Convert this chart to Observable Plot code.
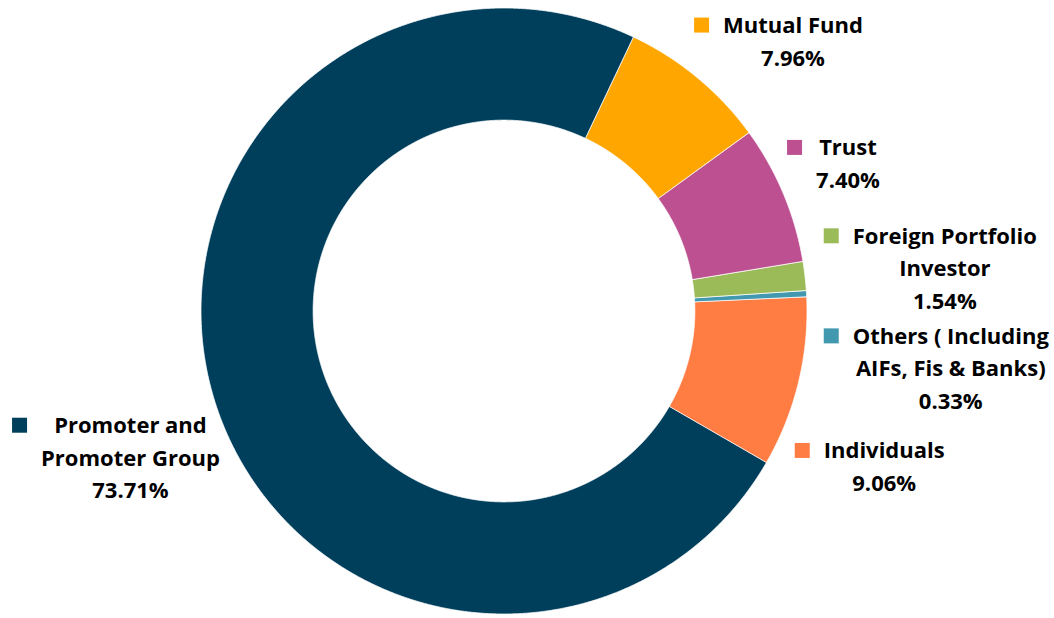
<!DOCTYPE html>
<html><head><meta charset="utf-8">
<script src="https://cdn.jsdelivr.net/npm/d3@7"></script>
<script src="https://cdn.jsdelivr.net/npm/@observablehq/plot@0.6"></script>
<style>html,body{margin:0;padding:0;background:#fff;overflow:hidden;}</style>
</head><body><div id="chart"></div>
<script>
// ---- data ----
const categories = ["Promoter and Promoter Group", "Mutual Fund", "Trust", "Foreign Portfolio Investor", "Others ( Including AIFs, Fis & Banks)", "Individuals"];
const labelLines = [["Promoter and", "Promoter Group"], ["Mutual Fund"], ["Trust"], ["Foreign Portfolio", "Investor"], ["Others ( Including", "AIFs, Fis & Banks)"], ["Individuals"]];
const shares = [73.71, 7.96, 7.40, 1.54, 0.33, 9.06];
const colors = ["#003f5c", "#ffa600", "#bc5090", "#9bbb59", "#4198af", "#ff7c43"];

// ---- layout ----
const W = 1054, H = 618;
const margin = {left: 201, right: 247, top: 8, bottom: 4};
const firstSliceAngle = 120;      // degrees clockwise from 12 o'clock
const innerRatio = 0.63;
const labelRadius = 1.3;
const labelNudge = [[2, 29], [37, 33], [-20, 4], [49, 2], [53, 79], [-3, 62]]; // px
const fontSize = 22, lineHeight = 1.48, fontFamily = "Open Sans";
const textShift = -2.5;
const keySize = 15, keyGap = 14;

const total = d3.sum(shares);
let acc = firstSliceAngle;
const slices = categories.map((name, i) => {
  const a0 = acc, a1 = acc + shares[i] / total * 360;
  acc = a1;
  return {name, a0, a1, mid: (a0 + a1) / 2, value: shares[i], i};
});

const rad = d => d * Math.PI / 180;
const ring = [];
for (const s of slices) {
  const n = Math.max(2, Math.ceil((s.a1 - s.a0) / 0.25));
  for (let k = 0; k <= n; k++) {
    const a = rad(s.a0 + (s.a1 - s.a0) * k / n);
    ring.push({name: s.name, xo: Math.sin(a), yo: Math.cos(a), xi: innerRatio * Math.sin(a), yi: innerRatio * Math.cos(a)});
  }
}

const ctx = document.createElement("canvas").getContext("2d");
ctx.font = `bold ${fontSize}px "${fontFamily}"`;

const labelMarks = slices.flatMap(s => {
  const lines = [...labelLines[s.i], s.value.toFixed(2) + "%"];
  const a = rad(s.mid);
  const d = [{name: s.name, x: labelRadius * Math.sin(a), y: labelRadius * Math.cos(a), text: lines.join("\n")}];
  const [nx, ny] = labelNudge[s.i];
  const maxW = d3.max(lines, l => ctx.measureText(l).width);
  const lh = fontSize * lineHeight;
  return [
    Plot.text(d, {x: "x", y: "y", text: "text", dx: nx, dy: ny + textShift, fontSize, fontWeight: "bold", fontFamily,
      lineHeight, lineAnchor: "middle", textAnchor: "middle", fill: "#000"}),
    Plot.dot(d, {x: "x", y: "y", fill: "name", symbol: "square", r: keySize / Math.sqrt(Math.PI),
      dx: nx - maxW / 2 - keyGap - keySize / 2, dy: ny - (lines.length - 1) / 2 * lh})
  ];
});

const chart = Plot.plot({
  width: W, height: H,
  marginLeft: margin.left, marginRight: margin.right, marginTop: margin.top, marginBottom: margin.bottom,
  x: {domain: [-1, 1], axis: null},
  y: {domain: [-1, 1], axis: null},
  color: {domain: categories, range: colors},
  style: {background: "#fff", overflow: "visible"},
  marks: [
    Plot.area(ring, {x1: "xo", y1: "yo", x2: "xi", y2: "yi", z: "name", fill: "name", stroke: "#fff", strokeWidth: 0.75}),
    ...labelMarks
  ]
});
document.getElementById("chart").append(chart);
</script>
</body></html>
